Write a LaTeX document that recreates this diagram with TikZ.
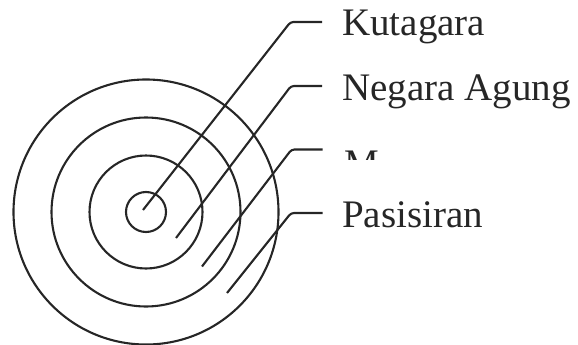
\documentclass[tikz,border=0pt]{standalone}
\usepackage{fontspec}
\setmainfont{Liberation Serif}
\begin{document}
\begin{tikzpicture}[x=1pt,y=-1pt,
  ring/.style={draw=black!85,line width=2.1pt},
  leader/.style={draw=black!85,line width=2.1pt,rounded corners=3pt},
  lbl/.style={anchor=base west,inner sep=0pt,font=\fontsize{39}{41}\selectfont,text=black!85}]
\useasboundingbox (0,0) rectangle (578,345);
\coordinate (c) at (146,212);
\draw[ring] (c) circle[radius=20];
\draw[ring] (c) circle[radius=56.5];
\draw[ring] (c) circle[radius=94.5];
\draw[ring] (c) circle[radius=132.5];
% leader line end points
\coordinate (a1) at (143,210);   \coordinate (b1) at (290.5,22);  \coordinate (e1) at (322,22);
\coordinate (a2) at (176,238);   \coordinate (b2) at (291,86);    \coordinate (e2) at (322,86);
\coordinate (a3) at (202,266.5); \coordinate (b3) at (291.5,149.5); \coordinate (e3) at (322.5,149.5);
\coordinate (a4) at (227,293);   \coordinate (b4) at (291,213);   \coordinate (e4) at (322.5,213);
\draw[leader] (a1) -- (b1) -- (e1);
\draw[leader] (a2) -- (b2) -- (e2);
\draw[leader] (a3) -- (b3) -- (e3);
\draw[leader] (a4) -- (b4) -- (e4);
\node[lbl] (t1) at (342,36) {Kutagara};
\node[lbl] (t2) at (342,100) {Negara Agung};
\begin{scope}
\clip (330,148) rectangle (400,159);
\node[lbl] (t3) at (344,176) {M};
\end{scope}
\node[lbl] (t4) at (342,227) {Pasisiran};
\end{tikzpicture}
\end{document}
